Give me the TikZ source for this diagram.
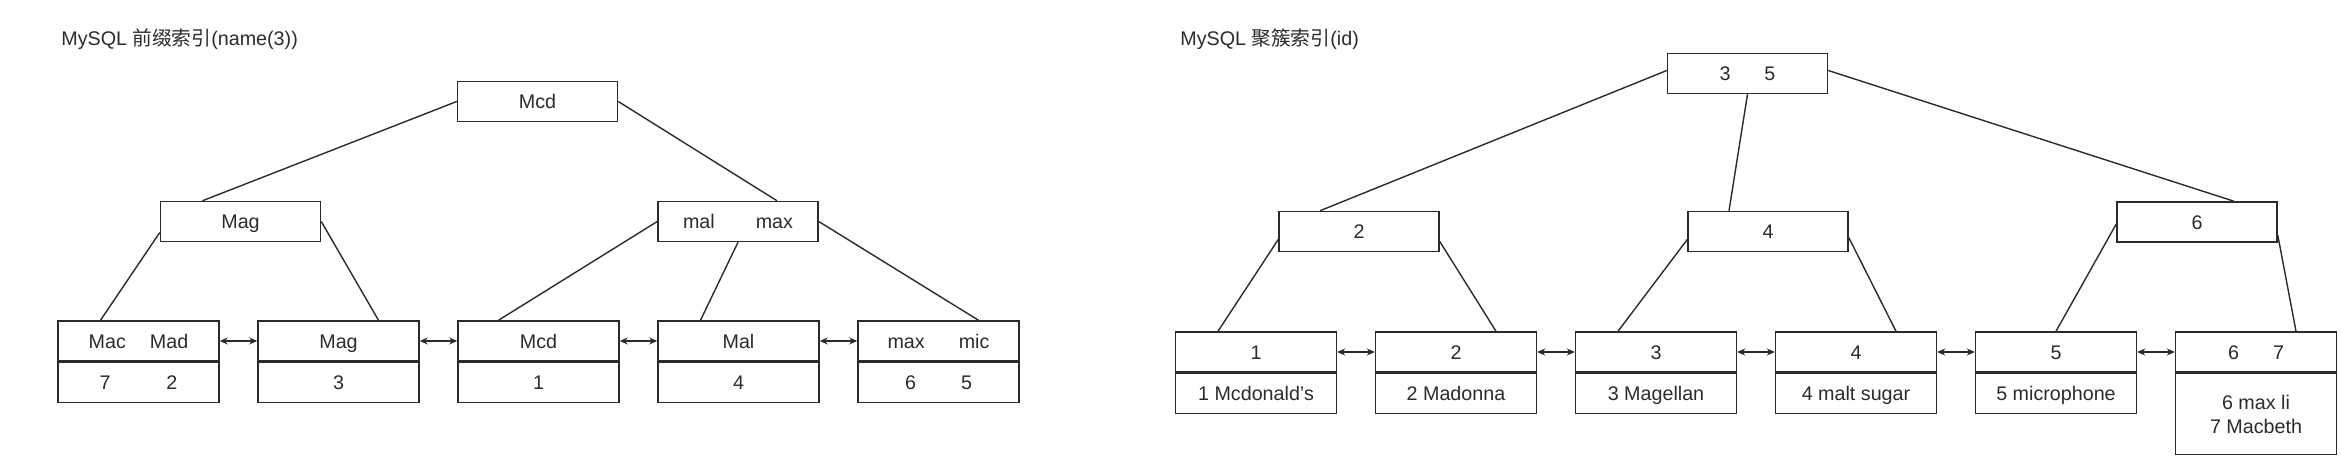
\documentclass[tikz,border=0pt]{standalone}
\usepackage{fontspec}
\setmainfont{Liberation Sans}
\newfontfamily\cjkfont{Noto Sans CJK SC}
\usepackage{tikz}
\usetikzlibrary{arrows.meta,positioning}
\definecolor{inkgray}{rgb}{0.17,0.17,0.17}

\begin{document}
\begin{tikzpicture}[
  x=0.5pt, y=-0.5pt,
  node distance=18.75pt,
  every node/.style={font=\fontsize{9.85}{12}\selectfont, text=inkgray},
  key/.style={rectangle, draw=inkgray, line width=0.75pt, minimum width=80pt,
              minimum height=20pt, inner sep=0pt, text height=7pt, text depth=0pt},
  cell/.style={key, minimum width=80.5pt},
  link/.style={draw=inkgray, line width=0.7pt},
  dlink/.style={{Stealth[length=4pt,width=3.5pt]}-{Stealth[length=4pt,width=3.5pt]},
                draw=inkgray, line width=0.6pt},
]
\useasboundingbox (0,0) rectangle (2341,456);

\node[anchor=west, inner sep=0pt] (ltitle) at (61,39) {MySQL {\cjkfont 前缀索引}(name(3))};
\node[anchor=west, inner sep=0pt] (rtitle) at (1180,39) {MySQL {\cjkfont 聚簇索引}(id)};

\node[key] (lroot) at (537.5,101.5) {Mcd};
\node[key] (lmag) at (240.5,221.5) {Mag};
\node[key] (lmal) at (738,221.5) {mal\hspace{20.5pt}max};

\node[cell] (lk1) at (138.5,341) {Mac\hspace{12pt}Mad};
\node[cell, right=of lk1] (lk2) {Mag};
\node[cell, right=of lk2] (lk3) {Mcd};
\node[cell, right=of lk3] (lk4) {Mal};
\node[cell, right=of lk4] (lk5) {max\hspace{17pt}mic};
\node[cell, below=0pt of lk1] (lv1) {7\hspace{28pt}2};
\node[cell, below=0pt of lk2] (lv2) {3};
\node[cell, below=0pt of lk3] (lv3) {1};
\node[cell, below=0pt of lk4] (lv4) {4};
\node[cell, below=0pt of lk5] (lv5) {6\hspace{22.5pt}5};

\node[key] (rroot) at (1747.5,73.5) {3\hspace{17pt}5};
\node[key] (r2) at (1359,231.5) {2};
\node[key] (r4) at (1768,231.5) {4};
\node[key] (r6) at (2197,222) {6};

\node[cell] (rk1) at (1256,352) {1};
\node[cell, right=of rk1] (rk2) {2};
\node[cell, right=of rk2] (rk3) {3};
\node[cell, right=of rk3] (rk4) {4};
\node[cell, right=of rk4] (rk5) {5};
\node[cell, right=of rk5] (rk6) {6\hspace{17pt}7};
\node[cell, below=0pt of rk1] (rv1) {1 Mcdonald's};
\node[cell, below=0pt of rk2] (rv2) {2 Madonna};
\node[cell, below=0pt of rk3] (rv3) {3 Magellan};
\node[cell, below=0pt of rk4] (rv4) {4 malt sugar};
\node[cell, below=0pt of rk5] (rv5) {5 microphone};
\node[cell, below=0pt of rk6, minimum height=40.5pt, align=center,
      text height={}, text depth={}] (rv6) {6 max li\\7 Macbeth};

\draw[link] (lroot.west) -- ([xshift=-19pt]lmag.north);
\draw[link] (lroot.east) -- ([xshift=19.5pt]lmal.north);
\draw[link] ([yshift=-5.5pt]lmag.west) -- ([xshift=-19pt]lk1.north);
\draw[link] (lmag.east) -- ([xshift=20pt]lk2.north);
\draw[link] (lmal.west) -- ([xshift=-20pt]lk3.north);
\draw[link] (lmal.south) -- ([xshift=-19pt]lk4.north);
\draw[link] (lmal.east) -- ([xshift=20pt]lk5.north);

\draw[link] ([yshift=1.5pt]rroot.west) -- ([xshift=-19.5pt]r2.north);
\draw[link] (rroot.south) -- ([xshift=-19.5pt]r4.north);
\draw[link] ([yshift=1.5pt]rroot.east) -- ([xshift=18.5pt]r6.north);
\draw[link] ([yshift=-4pt]r2.west) -- ([xshift=-19pt]rk1.north);
\draw[link] ([yshift=-5pt]r2.east) -- ([xshift=20pt]rk2.north);
\draw[link] ([yshift=-4pt]r4.west) -- ([xshift=-19pt]rk3.north);
\draw[link] ([yshift=-3pt]r4.east) -- ([xshift=20pt]rk4.north);
\draw[link] ([yshift=-1pt]r6.west) -- (rk5.north);
\draw[link] ([yshift=-6.5pt]r6.east) -- ([xshift=20pt]rk6.north);

\draw[dlink] (lk1) -- (lk2);
\draw[dlink] (lk2) -- (lk3);
\draw[dlink] (lk3) -- (lk4);
\draw[dlink] (lk4) -- (lk5);
\draw[dlink] (rk1) -- (rk2);
\draw[dlink] (rk2) -- (rk3);
\draw[dlink] (rk3) -- (rk4);
\draw[dlink] (rk4) -- (rk5);
\draw[dlink] (rk5) -- (rk6);
\end{tikzpicture}
\end{document}
